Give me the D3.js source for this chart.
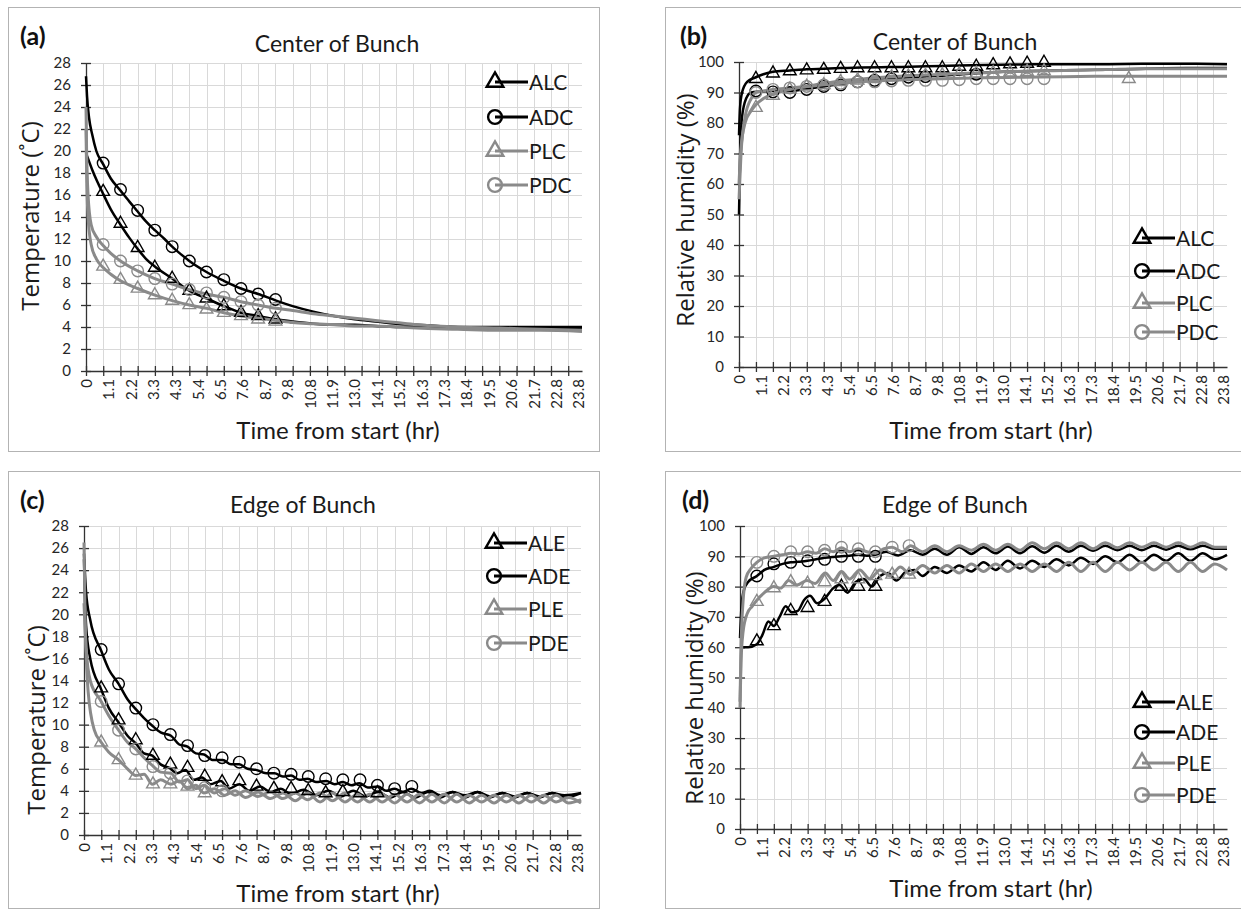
<!DOCTYPE html>
<html>
<head>
<meta charset="utf-8">
<script src="https://cdn.jsdelivr.net/npm/d3@7"></script>
<style>
  body { margin: 0; background: #fff; }
  svg { display: block; font-family: Lato, "Open Sans", sans-serif; }
</style>
</head>
<body>
<svg id="chart" width="1241" height="911"></svg>
<script>
// ---- axis labels (hr), a label every 65 min, tick marks every 50 min
const timeLabels = ["0", "1.1", "2.2", "3.3", "4.3", "5.4", "6.5", "7.6", "8.7", "9.8", "10.8", "11.9",
  "13.0", "14.1", "15.2", "16.3", "17.3", "18.4", "19.5", "20.6", "21.7", "22.8", "23.8"];
const labelStepHr = 65 / 60;
const gridStepHr = 50 / 60;

// times (hr) of the marker points
const markTimes = [0.83, 1.67, 2.5, 3.33, 4.17, 5, 5.83, 6.67, 7.5, 8.33, 9.17, 10, 10.83, 11.67,
  12.5, 13.33, 14.17, 15, 15.83, 16.67, 17.5, 18.33, 19.17];

// ---- (a) temperature, center of bunch  [hr, degC]
const ALC_a = [[0, 19.8], [0.1, 19.3], [0.3, 18.3], [0.55, 17.2], [0.83, 16.1], [1.2, 14.7], [1.67, 13.3],
  [2.1, 12.1], [2.5, 11.1], [2.9, 10.2], [3.33, 9.5], [4.17, 8.4], [5, 7.3], [5.83, 6.6], [6.67, 5.9],
  [7.5, 5.3], [8.33, 5.0], [9.2, 4.7], [10, 4.5], [11, 4.3], [12, 4.2], [13, 4.2], [14, 4.1], [15, 4.0],
  [16, 4.0], [17, 3.9], [18, 3.9], [20, 3.9], [22, 3.8], [24, 3.8]];
const ADC_a = [[0, 26.8], [0.05, 25], [0.15, 23], [0.3, 21.5], [0.5, 20], [0.83, 18.8], [1.2, 17.5],
  [1.67, 16.4], [2.1, 15.4], [2.5, 14.5], [2.9, 13.6], [3.33, 12.8], [3.8, 12], [4.17, 11.3], [4.6, 10.6],
  [5, 10], [5.83, 9], [6.67, 8.2], [7.5, 7.5], [8.33, 7.0], [9.2, 6.4], [10, 5.9], [11, 5.4], [12, 5.0],
  [13, 4.7], [14, 4.5], [15, 4.3], [16, 4.2], [17, 4.1], [18, 4.0], [20, 4.0], [22, 4.0], [24, 4.0]];
const PLC_a = [[0, 22], [0.03, 18], [0.1, 14], [0.25, 11.5], [0.5, 10.2], [0.83, 9.4], [1.2, 8.8],
  [1.67, 8.2], [2.5, 7.5], [3.33, 6.9], [4.17, 6.4], [5, 6.0], [5.83, 5.7], [6.67, 5.3], [7.5, 5.0],
  [8.33, 4.8], [9.2, 4.6], [10, 4.4], [11, 4.3], [12, 4.2], [13, 4.1], [14, 4.1], [15, 4.0], [16, 3.9],
  [18, 3.8], [20, 3.7], [22, 3.7], [24, 3.6]];
const PDC_a = [[0, 24], [0.03, 20], [0.1, 16], [0.25, 13.3], [0.5, 12.2], [0.83, 11.4], [1.2, 10.7],
  [1.67, 10.0], [2.5, 9.1], [3.33, 8.4], [4.17, 7.9], [5, 7.4], [5.83, 7.0], [6.67, 6.7], [7.5, 6.3],
  [8.33, 6.0], [9.2, 5.7], [10, 5.5], [11, 5.2], [12, 5.0], [13, 4.8], [14, 4.6], [15, 4.4], [16, 4.2],
  [18, 4.0], [20, 3.9], [22, 3.8], [24, 3.7]];
const ALC_am = [16.3, 13.4, 11.2, 9.4, 8.4, 7.3, 6.6, 5.9, 5.3, 5.0, 4.7];
const ADC_am = [18.9, 16.5, 14.6, 12.8, 11.3, 10.0, 9.0, 8.3, 7.5, 7.0, 6.5];
const PLC_am = [9.5, 8.3, 7.5, 6.9, 6.4, 6.0, 5.6, 5.3, 5.0, 4.7, 4.5];
const PDC_am = [11.5, 10.0, 9.1, 8.4, 7.9, 7.4, 7.1, 6.7, 6.3, 6.0, 5.7];

// ---- (b) relative humidity, center of bunch  [hr, %]
const ALC_b = [[0, 76], [0.05, 85], [0.15, 90], [0.4, 93.5], [0.83, 95], [1.2, 96], [1.67, 96.8],
  [2.5, 97.2], [3.33, 97.6], [4.17, 97.8], [5, 98], [6, 98.2], [7, 98.3], [8, 98.4], [10, 98.7],
  [12, 99], [14, 99.2], [16, 99.3], [18, 99.3], [20, 99.4], [22, 99.4], [24, 99.3]];
const ADC_b = [[0, 50], [0.05, 68], [0.15, 82], [0.35, 88], [0.6, 90], [1, 90.3], [1.67, 90.5],
  [2.5, 90.5], [3.33, 91.2], [4.17, 92], [5, 92.8], [5.83, 93.5], [6.67, 94], [7.5, 94.5], [8.33, 95],
  [9.2, 95.3], [10, 95.5], [11, 96], [12, 96.5], [13, 96.8], [14, 97], [16, 97.3], [18, 97.5],
  [20, 97.8], [22, 98], [24, 98]];
const PLC_b = [[0, 60], [0.1, 72], [0.3, 80], [0.6, 84], [0.83, 86], [1.2, 88], [1.67, 89.5], [2.5, 91],
  [3.33, 92], [4.17, 93], [5, 93.8], [5.83, 94.3], [6.67, 94.8], [7.5, 95.2], [8.33, 95.5], [10, 96],
  [12, 96.5], [14, 97], [16, 97.2], [18, 97.5], [20, 97.8], [22, 97.8], [24, 97.8]];
const PDC_b = [[0, 55], [0.1, 70], [0.3, 82], [0.6, 88], [0.83, 90], [1.2, 90.5], [1.67, 91], [2.5, 91.5],
  [3.33, 92], [4.17, 92.5], [5, 93], [5.83, 93.5], [6.67, 93.8], [7.5, 94], [8.33, 94.2], [10, 94.5],
  [12, 94.8], [14, 95], [16, 95.2], [18, 95.3], [20, 95.3], [22, 95.3], [24, 95.3]];
const ALC_bm = [94.5, 96.3, 97, 97.3, 97.5, 97.8, 98, 98, 98, 98, 98, 98, 98.5, 98.5, 99, 99.3, 99.5, 99.8];
const ADC_bm = [90.5, 90.2, 90, 91, 92, 92.5, 93.5, 94, 94.5, 95, 95.2, null, null, 96];
const PLC_bm = [85, 89, 91, 92, 92.5, 93.5, 94, 94.5, 95, 95.3, 95.5, 95.7, 96, 96.2, 96.4, 96.6, 96.8, 97,
  null, null, null, null, 94.5];
const PDC_bm = [90, 91, 91.5, 92, 92.5, 93, 93.5, 93.5, 93.8, 94, 94, 94, 94.2, 94.5, 94.5, 94.5, 94.5, 94.5];

// ---- (c) temperature, edge of bunch  [hr, degC]
const ALE_c = [[0, 25], [0.1, 19], [0.3, 16], [0.83, 13.2], [1.2, 11.5], [1.67, 10.2], [2.1, 9.0],
  [2.5, 8.3], [2.9, 7.4], [3.3, 7.2], [3.7, 6.4], [4.1, 6.1], [4.5, 5.6], [4.9, 5.9], [5.3, 5.0],
  [5.7, 5.2], [6.1, 4.6], [6.6, 4.9], [7.0, 4.2], [7.5, 4.6], [8.0, 4.0], [8.5, 4.4], [9.0, 3.9],
  [9.5, 4.2], [10.0, 3.7], [10.6, 4.1], [11.2, 3.6], [11.8, 4.0], [12.4, 3.5], [13.0, 4.0], [13.6, 3.5],
  [14.2, 3.9], [14.8, 3.4], [15.4, 3.9], [16.0, 3.4], [16.6, 3.9], [17.2, 3.4], [17.8, 3.9], [18.4, 3.4],
  [19.0, 3.9], [19.6, 3.4], [20.2, 3.8], [20.8, 3.4], [21.4, 3.8], [22.0, 3.4], [22.6, 3.8], [23.2, 3.4],
  [24, 3.8]];
const ADE_c = [[0, 25.5], [0.1, 22], [0.3, 19.5], [0.83, 16.7], [1.2, 15], [1.67, 13.7], [2.1, 12.3],
  [2.5, 11.4], [2.9, 10.6], [3.3, 9.9], [3.7, 9.3], [4.2, 9.0], [4.6, 8.2], [5.0, 8.0], [5.4, 7.4],
  [5.8, 7.3], [6.2, 6.8], [6.7, 6.8], [7.1, 6.4], [7.5, 6.4], [7.9, 6.0], [8.3, 5.9], [8.8, 5.6],
  [9.2, 5.6], [9.6, 5.3], [10.0, 5.4], [10.4, 5.0], [10.8, 5.1], [11.2, 4.8], [11.7, 4.9], [12.1, 4.6],
  [12.5, 4.8], [12.9, 4.5], [13.3, 4.7], [13.7, 4.3], [14.2, 4.4], [14.6, 4.0], [15.0, 4.2], [15.4, 3.9],
  [15.8, 4.2], [16.3, 3.8], [16.7, 4.0], [17.2, 3.6], [17.8, 3.9], [18.4, 3.6], [19.0, 3.9], [19.6, 3.5],
  [20.2, 3.8], [20.8, 3.5], [21.4, 3.8], [22.0, 3.5], [22.6, 3.8], [23.2, 3.6], [24, 3.8]];
const PLE_c = [[0, 26.5], [0.05, 20], [0.2, 13], [0.5, 9.5], [0.83, 8.4], [1.2, 7.5], [1.67, 6.8],
  [2.1, 6.0], [2.5, 5.4], [2.9, 5.5], [3.3, 4.6], [3.7, 5.0], [4.2, 4.6], [4.6, 4.9], [5.0, 4.2],
  [5.4, 4.5], [5.8, 3.8], [6.3, 4.2], [6.8, 3.6], [7.3, 4.0], [7.8, 3.4], [8.4, 3.9], [9.0, 3.3],
  [9.6, 3.8], [10.2, 3.1], [10.8, 3.8], [11.4, 3.0], [12.0, 3.8], [12.6, 3.0], [13.2, 3.7], [13.8, 3.0],
  [14.4, 3.7], [15.0, 2.9], [15.6, 3.7], [16.2, 2.9], [16.8, 3.7], [17.4, 2.9], [18.0, 3.7], [18.6, 2.9],
  [19.2, 3.6], [19.8, 2.9], [20.4, 3.6], [21.0, 2.9], [21.6, 3.6], [22.2, 2.9], [22.8, 3.6], [23.4, 2.9],
  [24, 3.2]];
const PDE_c = [[0, 21], [0.1, 17], [0.3, 14], [0.83, 12.1], [1.2, 10.8], [1.67, 9.5], [2.1, 8.4],
  [2.5, 7.8], [2.9, 7.0], [3.3, 6.3], [3.7, 5.7], [4.2, 5.6], [4.6, 4.8], [5.0, 5.0], [5.4, 4.2],
  [5.8, 4.5], [6.3, 3.8], [6.8, 4.2], [7.3, 3.6], [7.8, 4.0], [8.4, 3.5], [9.0, 3.9], [9.6, 3.3],
  [10.2, 3.8], [10.8, 3.2], [11.4, 3.8], [12.0, 3.1], [12.6, 3.8], [13.2, 3.0], [13.8, 3.7], [14.4, 3.0],
  [15.0, 3.7], [15.6, 3.0], [16.2, 3.7], [16.8, 3.0], [17.4, 3.7], [18.0, 3.0], [18.6, 3.6], [19.2, 3.0],
  [19.8, 3.6], [20.4, 3.0], [21.0, 3.6], [21.6, 3.0], [22.2, 3.6], [22.8, 3.0], [23.4, 3.4], [24, 2.9]];
const ALE_cm = [13.3, 10.4, 8.6, 7.2, 6.4, 6.1, 5.3, 4.8, 4.9, 4.4, 4.2, 4.2, 4.0, 3.8, 3.9, 3.8, 3.8];
const ADE_cm = [16.8, 13.7, 11.5, 10.0, 9.1, 8.1, 7.2, 7.0, 6.6, 6.0, 5.6, 5.5, 5.3, 5.1, 5.0, 5.0, 4.5, 4.2, 4.4];
const PLE_cm = [8.4, 6.8, 5.4, 4.6, 4.6, 4.4, 3.8];
const PDE_cm = [12.1, 9.5, 7.8, 6.2, 5.6, 4.9, 4.3, 4.0];

// ---- (d) relative humidity, edge of bunch  [hr, %]
const ALE_d = [[0, 60], [0.4, 60], [0.83, 61], [1.1, 64], [1.4, 68.5], [1.67, 67], [1.95, 70], [2.25, 73.5],
  [2.55, 71.5], [2.85, 72], [3.15, 75.5], [3.45, 77], [3.8, 74.5], [4.17, 76], [4.6, 79.5], [4.9, 80.5],
  [5.3, 78], [5.7, 81.5], [6.1, 82.5], [6.5, 80], [6.9, 83.5], [7.3, 84.5], [7.7, 82], [8.2, 85],
  [8.6, 85.5], [9.0, 83.5], [9.6, 86.5], [10.2, 84.5], [10.8, 87], [11.4, 85], [12.0, 88], [12.6, 85.5],
  [13.2, 88.5], [13.8, 86], [14.4, 88.5], [15.0, 86.5], [15.6, 89], [16.2, 87], [16.8, 89.5], [17.4, 87.5],
  [18.0, 90], [18.6, 88], [19.2, 90.5], [19.8, 88], [20.4, 90.5], [21.0, 88.5], [21.6, 91], [22.2, 88.5],
  [22.8, 91], [23.4, 89], [24, 90.5]];
const ADE_d = [[0, 63], [0.08, 74], [0.2, 79], [0.4, 81.5], [0.83, 83.5], [1.2, 85.5], [1.67, 86.5],
  [2.1, 87.5], [2.5, 88], [2.9, 88.2], [3.33, 88.5], [3.75, 89], [4.17, 89.5], [4.6, 89.8], [5, 90],
  [5.4, 90.2], [5.83, 90.5], [6.25, 90.2], [6.67, 90.5], [7.2, 91.5], [7.8, 90.3], [8.4, 92], [9.0, 90.5],
  [9.6, 92.5], [10.2, 90.5], [10.8, 93], [11.4, 90.8], [12.0, 93], [12.6, 91], [13.2, 93.2], [13.8, 91],
  [14.4, 93.3], [15.0, 91.2], [15.6, 93.5], [16.2, 91.5], [16.8, 93.5], [17.4, 91.8], [18.0, 93.5],
  [18.6, 92], [19.2, 93.5], [19.8, 92], [20.4, 93.5], [21.0, 92.2], [21.6, 93.5], [22.2, 92.3],
  [22.8, 93.5], [23.4, 92.5], [24, 92.5]];
const PLE_d = [[0, 40], [0.05, 55], [0.15, 65], [0.35, 71], [0.6, 73.5], [0.83, 75.5], [1.2, 78], [1.67, 80],
  [2.0, 79.5], [2.4, 82], [2.8, 80.5], [3.3, 82], [3.7, 81], [4.2, 84.5], [4.6, 82], [5.0, 85], [5.4, 82.5],
  [5.9, 85.5], [6.4, 82.5], [6.9, 85.5], [7.4, 83.5], [7.9, 86.5], [8.4, 84], [9.0, 87], [9.6, 84.5],
  [10.2, 87], [10.8, 84.5], [11.4, 87.5], [12.0, 85], [12.6, 87.5], [13.2, 85], [13.8, 87.5], [14.4, 85],
  [15.0, 87.5], [15.6, 85], [16.2, 88], [16.8, 85], [17.4, 88], [18.0, 85], [18.6, 88], [19.2, 85.5],
  [19.8, 88], [20.4, 85.5], [21.0, 88], [21.6, 85], [22.2, 88], [22.8, 85], [23.4, 87.5], [24, 85.5]];
const PDE_d = [[0, 42], [0.05, 60], [0.15, 75], [0.3, 83], [0.55, 86], [0.83, 88], [1.2, 89.5], [1.67, 90],
  [2.1, 90.5], [2.5, 91], [2.9, 90.8], [3.33, 91.5], [3.75, 91], [4.17, 92.5], [4.6, 91.5], [5, 92.8],
  [5.4, 91.5], [5.83, 92.5], [6.25, 91.5], [6.67, 91], [7.1, 92.5], [7.5, 93], [8.0, 91.5], [8.4, 93.5],
  [9.0, 91.5], [9.6, 93.5], [10.2, 91.5], [10.8, 93.5], [11.4, 92], [12.0, 94], [12.6, 92], [13.2, 94],
  [13.8, 92], [14.4, 94.5], [15.0, 92.5], [15.6, 94.5], [16.2, 92.5], [16.8, 94.5], [17.4, 92.5],
  [18.0, 94.5], [18.6, 92.8], [19.2, 94.5], [19.8, 93], [20.4, 94.5], [21.0, 93], [21.6, 94.5], [22.2, 93],
  [22.8, 94.5], [23.4, 93], [24, 93]];
const ALE_dm = [62, 67, 72, 73, 75, 80, 80, 80];
const ADE_dm = [83.5, 87.5, 88, 88.5, 89, 90, 90, 90];
const PLE_dm = [75, 79.5, 81.5, 81, 81.5, 82.5, 82.5, 83.5, 84, 84];
const PDE_dm = [88, 90, 91.5, 91.5, 92, 93, 92.5, 91.5, 93, 93.5];

const BLACK = "#000";
const GREY = "#8a8a8a";

const panels = [
  {
    tag: "(a)", title: "Center of Bunch", yTitle: "Temperature (˚C)",
    frame: [8, 7, 599, 451], plot: [86, 63, 582, 371], yMax: 28, yStep: 2,
    tagPos: [20, 45], titlePos: [337, 52], yTitlePos: [39, 216], xTitlePos: [338, 439],
    legend: { x: 495, y: [82, 117, 151, 185] },
    series: [
      { name: "ALC", line: ALC_a, marks: ALC_am, color: BLACK, shape: "tri" },
      { name: "ADC", line: ADC_a, marks: ADC_am, color: BLACK, shape: "circ" },
      { name: "PLC", line: PLC_a, marks: PLC_am, color: GREY, shape: "tri" },
      { name: "PDC", line: PDC_a, marks: PDC_am, color: GREY, shape: "circ" },
    ],
  },
  {
    tag: "(b)", title: "Center of Bunch", yTitle: "Relative humidity (%)",
    frame: [665, 7, 1250, 451], plot: [739, 62, 1227, 367], yMax: 100, yStep: 10,
    tagPos: [680, 45], titlePos: [955, 50], yTitlePos: [694, 210], xTitlePos: [991, 439],
    legend: { x: 1142, y: [238, 271, 303, 332] },
    series: [
      { name: "ALC", line: ALC_b, marks: ALC_bm, color: BLACK, shape: "tri" },
      { name: "ADC", line: ADC_b, marks: ADC_bm, color: BLACK, shape: "circ" },
      { name: "PLC", line: PLC_b, marks: PLC_bm, color: GREY, shape: "tri" },
      { name: "PDC", line: PDC_b, marks: PDC_bm, color: GREY, shape: "circ" },
    ],
  },
  {
    tag: "(c)", title: "Edge of Bunch", yTitle: "Temperature (˚C)",
    frame: [8, 471, 599, 908], plot: [84, 526, 581, 835], yMax: 28, yStep: 2,
    tagPos: [20, 509], titlePos: [303, 513], yTitlePos: [45, 720], xTitlePos: [338, 902],
    legend: { x: 494, y: [543, 576, 609, 643] },
    series: [
      { name: "ALE", line: ALE_c, marks: ALE_cm, color: BLACK, shape: "tri" },
      { name: "ADE", line: ADE_c, marks: ADE_cm, color: BLACK, shape: "circ" },
      { name: "PLE", line: PLE_c, marks: PLE_cm, color: GREY, shape: "tri" },
      { name: "PDE", line: PDE_c, marks: PDE_cm, color: GREY, shape: "circ" },
    ],
  },
  {
    tag: "(d)", title: "Edge of Bunch", yTitle: "Relative humidity (%)",
    frame: [665, 471, 1250, 908], plot: [740, 526, 1227, 829], yMax: 100, yStep: 10,
    tagPos: [682, 509], titlePos: [955, 513], yTitlePos: [703, 688], xTitlePos: [991, 897],
    legend: { x: 1142, y: [702, 732, 763, 795] },
    series: [
      { name: "ALE", line: ALE_d, marks: ALE_dm, color: BLACK, shape: "tri" },
      { name: "ADE", line: ADE_d, marks: ADE_dm, color: BLACK, shape: "circ" },
      { name: "PLE", line: PLE_d, marks: PLE_dm, color: GREY, shape: "tri" },
      { name: "PDE", line: PDE_d, marks: PDE_dm, color: GREY, shape: "circ" },
    ],
  },
];

const svg = d3.select("#chart");

function symbolPath(shape, big) {
  if (shape === "tri") return d3.symbol(d3.symbolTriangle, big ? 120 : 70)();
  return d3.symbol(d3.symbolCircle, big ? 150 : 105)();
}

function drawPanel(p) {
  const g = svg.append("g");
  const [px0, py0, px1, py1] = p.plot;

  g.append("rect")
    .attr("x", p.frame[0] + 0.5).attr("y", p.frame[1] + 0.5)
    .attr("width", p.frame[2] - p.frame[0]).attr("height", p.frame[3] - p.frame[1])
    .attr("fill", "#fff").attr("stroke", "#b3b3b3");

  const x = d3.scaleLinear().domain([0, 24]).range([px0, px1]);
  const y = d3.scaleLinear().domain([0, p.yMax]).range([py1, py0]);

  const yTicks = d3.range(0, p.yMax + p.yStep / 2, p.yStep);
  const gridTicks = d3.range(0, 29).map((k) => k * gridStepHr);

  // gridlines
  g.append("g").selectAll("line").data(yTicks.slice(1)).join("line")
    .attr("x1", px0).attr("x2", px1)
    .attr("y1", (d) => Math.round(y(d)) + 0.5).attr("y2", (d) => Math.round(y(d)) + 0.5)
    .attr("stroke", "#d9d9d9");
  g.append("g").selectAll("line").data(gridTicks.slice(1)).join("line")
    .attr("x1", (d) => Math.round(x(d)) + 0.5).attr("x2", (d) => Math.round(x(d)) + 0.5)
    .attr("y1", py0).attr("y2", py1)
    .attr("stroke", "#d9d9d9");

  // y axis, ticks crossing the line
  const yAxis = g.append("g").attr("transform", `translate(${px0},0)`)
    .call(d3.axisLeft(y).tickValues(yTicks).tickSize(5).tickSizeOuter(0).tickPadding(10));
  yAxis.selectAll(".tick line").attr("x1", 5);
  yAxis.attr("font-family", null).attr("font-size", null);
  yAxis.selectAll("text").attr("font-size", 15).attr("fill", "#262626");

  // x axis: tick marks every 50 min, labels every 65 min
  const xTickAxis = g.append("g").attr("transform", `translate(0,${py1})`)
    .call(d3.axisBottom(x).tickValues(gridTicks).tickFormat("").tickSize(5).tickSizeOuter(0));
  xTickAxis.selectAll(".tick line").attr("y1", -5);

  const xLabelAxis = g.append("g").attr("transform", `translate(0,${py1})`)
    .call(d3.axisBottom(x)
      .tickValues(timeLabels.map((_, i) => i * labelStepHr))
      .tickFormat((d, i) => timeLabels[i])
      .tickSize(0));
  xLabelAxis.select(".domain").remove();
  xLabelAxis.attr("font-family", null).attr("font-size", null);
  xLabelAxis.selectAll("text")
    .attr("transform", "rotate(-90)")
    .attr("x", -8).attr("y", 0).attr("dy", "0.35em")
    .attr("text-anchor", "end")
    .attr("font-size", 15).attr("fill", "#262626");

  g.selectAll(".domain, .tick line").attr("stroke", "#333").attr("stroke-width", 1.3);

  // series lines
  const line = d3.line().x((d) => x(d[0])).y((d) => y(d[1])).curve(d3.curveMonotoneX);
  p.series.forEach((s) => {
    g.append("path").datum(s.line)
      .attr("d", line)
      .attr("fill", "none")
      .attr("stroke", s.color)
      .attr("stroke-width", s.color === BLACK ? 2.5 : 3)
      .attr("stroke-linejoin", "round");
  });

  // markers
  p.series.forEach((s) => {
    const pts = s.marks.map((v, i) => [markTimes[i], v]).filter((d) => d[1] != null);
    g.append("g").selectAll("path").data(pts).join("path")
      .attr("transform", (d) => `translate(${x(d[0])},${y(d[1])})`)
      .attr("d", symbolPath(s.shape, false))
      .attr("fill", "none")
      .attr("stroke", s.color)
      .attr("stroke-width", 1.4);
  });

  // legend
  const lg = g.append("g");
  p.series.forEach((s, i) => {
    const ly = p.legend.y[i];
    lg.append("line")
      .attr("x1", p.legend.x).attr("x2", p.legend.x + 33)
      .attr("y1", ly).attr("y2", ly)
      .attr("stroke", s.color).attr("stroke-width", 3);
    lg.append("path")
      .attr("transform", `translate(${p.legend.x},${ly})`)
      .attr("d", symbolPath(s.shape, true))
      .attr("fill", "none").attr("stroke", s.color).attr("stroke-width", 2.4);
    lg.append("text")
      .attr("x", p.legend.x + 34).attr("y", ly).attr("dy", "0.36em")
      .attr("font-family", "'Liberation Sans Narrow', Lato, sans-serif")
      .attr("font-size", 21).attr("fill", "#1a1a1a")
      .text(s.name);
  });

  // titles
  g.append("text").attr("x", p.tagPos[0]).attr("y", p.tagPos[1])
    .attr("font-size", 25).attr("font-weight", "bold").attr("fill", "#111")
    .text(p.tag);
  g.append("text").attr("x", p.titlePos[0]).attr("y", p.titlePos[1])
    .attr("text-anchor", "middle").attr("font-size", 23).attr("fill", "#1a1a1a")
    .text(p.title);
  g.append("text").attr("x", p.xTitlePos[0]).attr("y", p.xTitlePos[1])
    .attr("text-anchor", "middle").attr("font-size", 24).attr("fill", "#1a1a1a")
    .text("Time from start (hr)");
  g.append("text")
    .attr("transform", `translate(${p.yTitlePos[0]},${p.yTitlePos[1]}) rotate(-90)`)
    .attr("text-anchor", "middle")
    .attr("font-family", "'Open Sans', sans-serif")
    .attr("font-size", 24).attr("fill", "#1a1a1a")
    .text(p.yTitle);
}

panels.forEach(drawPanel);
</script>
</body>
</html>
